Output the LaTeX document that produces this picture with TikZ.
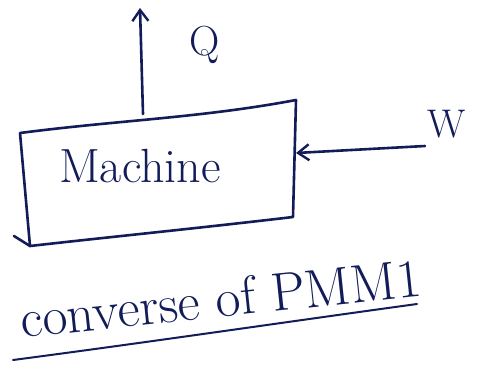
\documentclass[tikz,border=0pt]{standalone}
\usetikzlibrary{arrows.meta}
\definecolor{ink}{RGB}{18,28,88}
\begin{document}
\begin{tikzpicture}[x=1pt,y=-1pt,
  pen/.style={draw=ink,line width=2.6pt,line cap=round,line join=round},
  arr/.style={pen,-{Straight Barb[length=11pt,width=16pt,line width=2.4pt]}},
  lbl/.style={text=ink,inner sep=0pt}]
\useasboundingbox[fill=white] (0,0) rectangle (480,368);
% box corners
\coordinate (tl) at (20,133);
\coordinate (tr) at (296,100);
\coordinate (br) at (293,217);
\coordinate (bl) at (30,246);
\draw[pen] (tl) .. controls (120,120) and (200,118) .. (tr) -- (br)
  .. controls (200,228) and (100,238) .. (bl) -- cycle;
\draw[pen] (14,236) -- (bl);
\node[lbl,font=\fontsize{48}{52}\selectfont] (machine) at (140,166) {Machine};
% Q arrow (out of top)
\coordinate (qfoot) at (143,114);
\coordinate (qtip) at (140,8);
\draw[arr] (qfoot) -- (qtip);
\node[lbl,font=\fontsize{42}{46}\selectfont] (q) at (205,45) {Q};
% W arrow (into right side)
\coordinate (wstart) at (425,146);
\coordinate (wend) at (296,153);
\draw[arr] (wstart) -- (wend);
\node[lbl,font=\fontsize{40}{44}\selectfont] (w) at (447,124) {W};
% caption
\node[lbl,font=\fontsize{54}{58}\selectfont,rotate=6,anchor=base west] (cap) at (22,338) {converse of PMM1};
\coordinate (ul1) at (13,360);
\coordinate (ul2) at (417,304);
\draw[pen,line width=2pt] (ul1) .. controls (150,342) and (300,320) .. (ul2);
\end{tikzpicture}
\end{document}
